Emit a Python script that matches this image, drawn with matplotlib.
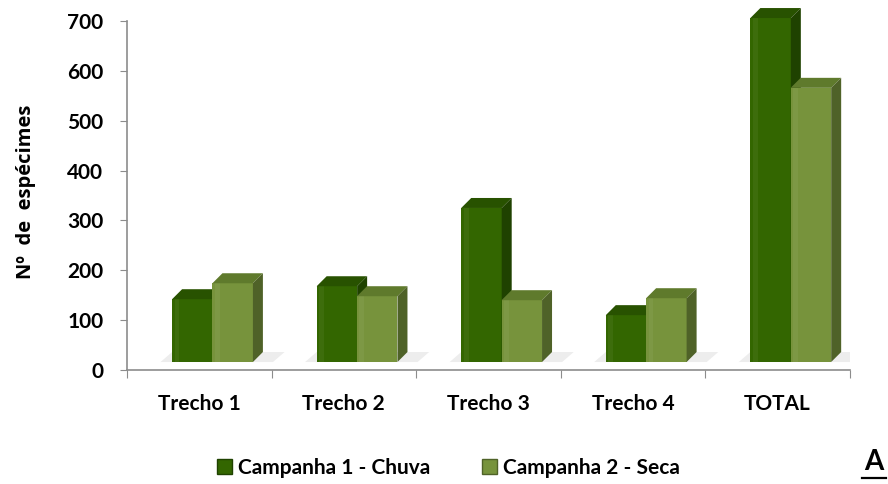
import matplotlib.pyplot as plt
import numpy as np
from matplotlib.patches import Polygon, Rectangle
from matplotlib.lines import Line2D

plt.rcParams['font.family'] = ['Lato', 'DejaVu Sans']
plt.rcParams['font.weight'] = 'bold'

# data
categories = ['Trecho 1', 'Trecho 2', 'Trecho 3', 'Trecho 4', 'TOTAL']
chuva = [126, 152, 309, 94, 690]
seca = [158, 132, 124, 128, 550]
series_names = ['Campanha 1 - Chuva', 'Campanha 2 - Seca']
yticks = [0, 100, 200, 300, 400, 500, 600, 700]

# colours: front, top, side
dark = ('#336600', '#285200', '#1f4200')
light = ('#77933c', '#5f7a2c', '#4f6228')

fig = plt.figure(figsize=(8.88, 4.84), dpi=100)
ax = fig.add_axes([0.143, 0.2355, 0.814, 0.721])
ax.set_xlim(0, len(categories))
ax.set_ylim(0, 700)

# pixel -> data scale
px_x = len(categories) / (0.814 * 888)
px_y = 700 / (0.721 * 484)
dx, dy = 10 * px_x, 10 * px_y
lift = 8 * px_y

width = 0.28
offsets = [-0.048, 0.231]


def bar3d(xc, v, cols, z):
    x0, x1 = xc - width / 2, xc + width / 2
    y0, y1 = lift, lift + v
    ax.add_patch(Rectangle((x0, y0), width, v, facecolor=cols[0],
                           edgecolor='none', zorder=z, clip_on=False))
    # highlight strip
    ax.add_patch(Rectangle((x0 + width * 0.06, y0), width * 0.12, v,
                           facecolor='white', alpha=0.05, edgecolor='none', zorder=z, clip_on=False))
    ax.add_patch(Polygon([(x0, y1), (x1, y1), (x1 + dx, y1 + dy), (x0 + dx, y1 + dy)],
                         closed=True, facecolor=cols[1], edgecolor='none', zorder=z, clip_on=False))
    ax.add_patch(Polygon([(x1, y0), (x1 + dx, y0 + dy), (x1 + dx, y1 + dy), (x1, y1)],
                         closed=True, facecolor=cols[2], edgecolor='none', zorder=z, clip_on=False))


for i in range(len(categories)):
    c = i + 0.5
    # floor shadow
    sx0 = c + offsets[0] - width / 2 - 0.08
    sx1 = c + offsets[1] + width / 2 + dx + 0.15
    ax.add_patch(Polygon([(sx0, lift), (sx1 - 0.08, lift), (sx1, lift + dy), (sx0 + 0.08, lift + dy)],
                         closed=True, facecolor='#ededed', edgecolor='none', zorder=1))
    bar3d(c + offsets[0], chuva[i], dark, 2)
    bar3d(c + offsets[1], seca[i], light, 3)

# axes styling
for s in ['top', 'right']:
    ax.spines[s].set_visible(False)
ax.spines['left'].set_color('#8c8c8c')
ax.spines['bottom'].set_color('#8c8c8c')
ax.spines['left'].set_linewidth(1.2)
ax.spines['bottom'].set_linewidth(1.2)

ax.set_yticks(yticks)
ax.set_yticklabels([str(t) for t in yticks], fontsize=15, fontweight='bold')
ax.tick_params(axis='y', length=5, color='#8c8c8c', pad=12)

ax.set_xticks(np.arange(len(categories) + 1))
ax.set_xticklabels([])
ax.set_xticks(np.arange(len(categories)) + 0.5, minor=True)
ax.set_xticklabels(categories, minor=True, fontsize=15, fontweight='bold')
ax.tick_params(axis='x', which='major', length=6, color='#8c8c8c', direction='out')
ax.tick_params(axis='x', which='minor', length=0, pad=17)

fig.text(26 / 888, 1 - 192 / 484, 'Nº  de  espécimes', fontsize=14.5, fontweight='bold',
         rotation=90, ha='center', va='center', family=['Open Sans', 'DejaVu Sans'])

handles = [Rectangle((0, 0), 1, 1, facecolor=dark[0], edgecolor=dark[2], linewidth=1.0),
           Rectangle((0, 0), 1, 1, facecolor=light[0], edgecolor=light[2], linewidth=1.0)]
fig.legend(handles, series_names, loc='center', bbox_to_anchor=(0.505, 0.033),
           ncol=2, frameon=False, fontsize=15, handlelength=0.7, handleheight=0.7,
           handletextpad=0.3, columnspacing=2.5)

fig.text(874 / 888, 0.045, 'A', fontsize=20, fontweight='bold', ha='center', va='center')
fig.add_artist(Line2D([862 / 888, 886 / 888], [0.012, 0.012], color='black', linewidth=1.6))

fig.savefig('out.png', dpi=100)
